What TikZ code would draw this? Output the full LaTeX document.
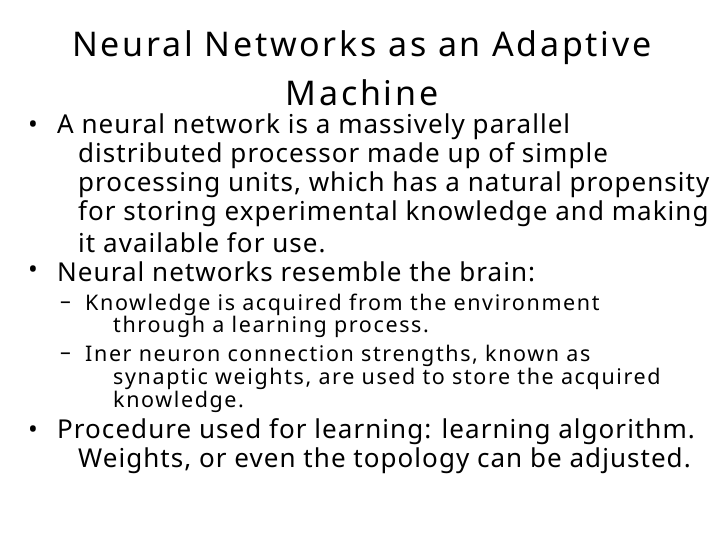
\documentclass[tikz,border=0pt]{standalone}
\usepackage{fontspec}
\setmainfont{Noto Sans}
\newfontfamily\fa[LetterSpace=4]{Noto Sans}
\newfontfamily\fb[LetterSpace=7.5]{Noto Sans}
\newfontfamily\fc[LetterSpace=8]{Noto Sans}
\begin{document}
\begin{tikzpicture}[x=1pt,y=-1pt,
  l1/.style={anchor=west,inner sep=0pt,font=\fa\fontsize{26}{28}\selectfont},
  l2/.style={anchor=west,inner sep=0pt,font=\fb\fontsize{21.5}{24}\selectfont},
  tt/.style={inner sep=0pt,font=\fc\fontsize{34}{36}\selectfont}]
\useasboundingbox (0,0) rectangle (720,540);
\node[tt] (t1) at (362,48) {Neural Networks as an Adaptive};
\node[tt] (t2) at (362,93) {Machine};
\node[l1] (b1) at (28,127) {•};
\node[l1] (a1) at (57,127) {A neural network is a massively parallel};
\node[l1] (a2) at (78,156) {distributed processor made up of simple};
\node[l1] (a3) at (78,185) {processing units, which has a natural propensity};
\node[l1] (a4) at (78,214) {for storing experimental knowledge and making};
\node[l1] (a5) at (78,243) {it available for use.};
\node[l1] (b2) at (28,272) {•};
\node[l1] (c1) at (57,272) {Neural networks resemble the brain:};
\node[l2] (d1) at (60,305) {–};
\node[l2] (e1) at (85,305) {Knowledge is acquired from the environment};
\node[l2] (e2) at (113,327) {through a learning process.};
\node[l2] (d2) at (60,356) {–};
\node[l2] (f1) at (85,356) {Iner neuron connection strengths, known as};
\node[l2] (f2) at (113,379) {synaptic weights, are used to store the acquired};
\node[l2] (f3) at (113,402) {knowledge.};
\node[l1] (b3) at (28,432) {•};
\node[l1] (g1) at (57,432) {Procedure used for learning: learning algorithm.};
\node[l1] (g2) at (78,461) {Weights, or even the topology can be adjusted.};
\end{tikzpicture}
\end{document}
